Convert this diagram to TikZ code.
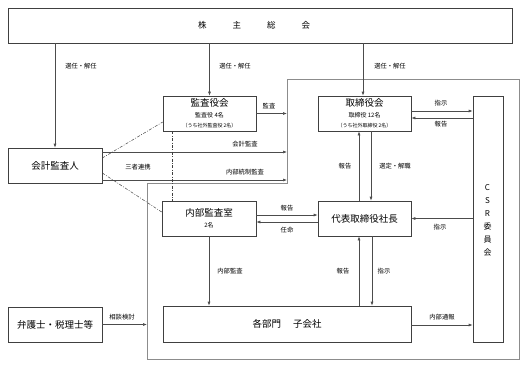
\documentclass[tikz,border=0pt]{standalone}
\usepackage{fontspec}
\setmainfont{Noto Sans CJK JP}
\usetikzlibrary{arrows.meta,calc}
\begin{document}
\begin{tikzpicture}[x=1pt,y=-1pt,
 box/.style={draw=black!75, line width=0.6pt, inner sep=0pt, align=center, fill=white},
 arr/.style={draw=black!70, line width=0.6pt, -{Latex[length=4pt,width=3pt]}},
 lbl/.style={font=\fontsize{6.3}{7}\selectfont, inner sep=0pt},
 link/.style={draw=black!75, line width=0.5pt, dash pattern=on 3pt off 1.5pt on 0.8pt off 1.5pt},
 frm/.style={draw=black!45, line width=0.7pt},
 big/.style={font=\fontsize{9.5}{11}\selectfont}]
\useasboundingbox (0,0) rectangle (527,367);
% frame
\coordinate (fTL) at (287,79);
\coordinate (fTR) at (519,79);
\coordinate (fBR) at (519,359);
\coordinate (fBL) at (147,359);
\coordinate (fIL) at (147,183);
\coordinate (fIR) at (287,183);
\draw[frm] (fTL) -- (fTR) -- (fBR) -- (fBL) -- (fIL) -- (fIR) -- cycle;
% boxes
\node[box, minimum width=504pt, minimum height=35pt, font=\fontsize{8.5}{10}\selectfont] (top) at (260,25.5) {株\hspace{26pt}主\hspace{26pt}総\hspace{26pt}会\hspace{12pt}};
\node[box, big, minimum width=94pt, minimum height=35pt] (kaikei) at (55,165.5) {会計監査人};
\node[box, minimum width=93pt, minimum height=35pt] (kansa) at (209.5,113.5)
 {{\fontsize{9.5}{11}\selectfont 監査役会}\\[-1pt]{\fontsize{6}{8}\selectfont 監査役 4名}\\[-2pt]{\fontsize{5}{6}\selectfont （うち社外監査役 2名）}};
\node[box, minimum width=93pt, minimum height=35pt] (tori) at (364.5,113.5)
 {{\fontsize{9.5}{11}\selectfont 取締役会}\\[-1pt]{\fontsize{6}{8}\selectfont 取締役 12名}\\[-2pt]{\fontsize{5}{6}\selectfont （うち社外取締役 2名）}};
\node[box, minimum width=30pt, minimum height=246pt] (csr) at (488,219) {};
\node[font=\fontsize{8}{13}\selectfont, align=center, inner sep=0pt] (csrt) at (487.5,220) {C\\S\\R\\委\\員\\会};
\node[box, minimum width=94pt, minimum height=35pt] (naibu) at (209,218.5)
 {{\fontsize{9.5}{11}\selectfont 内部監査室}\\[-1pt]{\fontsize{6}{8}\selectfont 2名}};
\node[box, big, minimum width=93pt, minimum height=35pt] (daihyo) at (364.5,218.5) {代表取締役社長};
\node[box, big, minimum width=248pt, minimum height=36pt] (kakubu) at (287,324) {各部門\hspace{12pt}子会社};
\node[box, big, minimum width=94pt, minimum height=35pt] (bengo) at (55,324.5) {弁護士・税理士等};
% appointment arrows
\draw[arr] (top.south -| kaikei.north) -- (kaikei.north);
\draw[arr] (top.south -| kansa.north) -- (kansa.north);
\draw[arr] ([xshift=-1.5pt]top.south -| tori.north) -- ([xshift=-1.5pt]tori.north);
\node[lbl] (l1) at (81,66) {選任・解任};
\node[lbl] (l2) at (235,66) {選任・解任};
\node[lbl] (l3) at (390,66) {選任・解任};
% kansa
\draw[arr] (kansa.east) -- (kansa.east -| fTL);
\node[lbl] (l4) at (269,106) {監査};
% kaikei
\draw[arr] ([yshift=13.5pt]kaikei.east) coordinate (k1) -- (k1 -| fTL);
\draw[arr] ([yshift=-14.5pt]kaikei.east) coordinate (k2) -- (k2 -| fTL);
\node[lbl] (l5) at (245,144) {会計監査};
\node[lbl] (l6) at (245,172) {内部統制監査};
\node[lbl] (l7) at (138,167) {三者連携};
% three-way links
\draw[link] ([yshift=7.5pt]kaikei.east) -- ([yshift=-8.5pt]kansa.west);
\draw[link] ([yshift=-7.5pt]kaikei.east) -- ([yshift=6.5pt]naibu.west);
\draw[link] ([xshift=-37.5pt]kansa.south) -- ([xshift=-37pt]naibu.north);
% tori - csr
\draw[arr] ([yshift=2.5pt]tori.east) coordinate (t1) -- (t1 -| csr.west);
\draw[arr] ([yshift=-4.5pt]tori.east -| csr.west) coordinate (t2) -- (t2 -| tori.east);
\node[lbl] (l8) at (441,103) {指示};
\node[lbl] (l9) at (441,124) {報告};
% tori - daihyo
\draw[arr] ([xshift=-5.5pt]daihyo.north) -- ([xshift=-5.5pt]tori.south);
\draw[arr] ([xshift=6.5pt]tori.south) -- ([xshift=6.5pt]daihyo.north);
\node[lbl] (l10) at (345,166) {報告};
\node[lbl] (l11) at (395,166) {選定・解職};
% naibu - daihyo
\draw[arr] ([yshift=3.5pt]naibu.east) coordinate (n1) -- (n1 -| daihyo.west);
\draw[arr] ([yshift=-3.5pt]daihyo.west) coordinate (n2) -- (n2 -| naibu.east);
\node[lbl] (l12) at (287,208) {報告};
\node[lbl] (l13) at (287,230) {任命};
% csr - daihyo
\draw[arr] (daihyo.east -| csr.west) -- (daihyo.east);
\node[lbl] (l14) at (440,227) {指示};
% naibu - kakubu
\draw[arr] (naibu.south) -- (naibu.south |- kakubu.north);
\node[lbl] (l15) at (230,271) {内部監査};
% daihyo - kakubu
\draw[arr] ([xshift=-5.5pt]daihyo.south |- kakubu.north) -- ([xshift=-5.5pt]daihyo.south);
\draw[arr] ([xshift=7.5pt]daihyo.south) -- ([xshift=7.5pt]daihyo.south |- kakubu.north);
\node[lbl] (l16) at (343,271) {報告};
\node[lbl] (l17) at (384,271) {指示};
% kakubu - csr
\draw[arr] ([yshift=-1pt]kakubu.east) coordinate (b1) -- (b1 -| csr.west);
\node[lbl] (l18) at (442,317) {内部通報};
% bengo
\draw[arr] (bengo.east) -- (bengo.east -| fIL);
\node[lbl] (l19) at (122,317) {相談検討};
\end{tikzpicture}
\end{document}
